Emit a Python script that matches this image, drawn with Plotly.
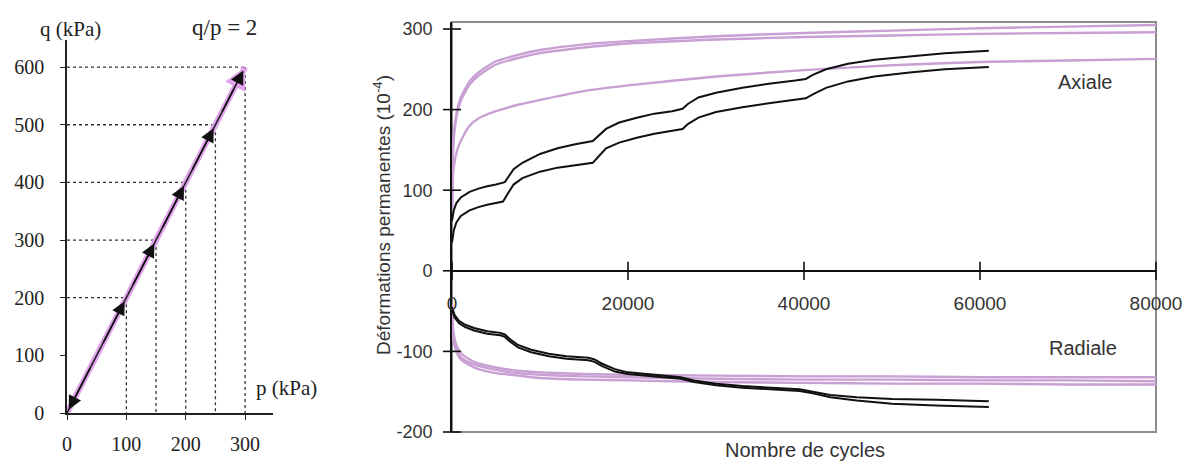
import plotly.graph_objects as go

# ---------------- Left chart data (stress path) ----------------
p_vals = [100, 150, 200, 250, 300]
q_vals = [200, 300, 400, 500, 600]
left_xticks = [0, 100, 200, 300]
left_yticks = [0, 100, 200, 300, 400, 500, 600]

# ---------------- Right chart data (permanent strains) ----------------
# axial - black (two tests)
ax_black1_N = [0, 200, 500, 1000, 2000, 3000, 4000, 5000, 6000, 6500, 7000, 8000, 10000, 12000, 14000,
               16000, 16500, 17500, 19000, 21000, 23000, 25000, 26200, 26800, 28000, 30000, 33000, 36000,
               39000, 40200, 41000, 42500, 45000, 48000, 52000, 56000, 61000]
ax_black1_v = [62, 75, 84, 91, 98, 102, 105, 107, 110, 118, 126, 134, 145, 152, 157,
               161, 166, 176, 184, 190, 195, 198, 201, 207, 215, 221, 227, 232,
               236, 238, 243, 250, 257, 262, 266, 270, 273]
ax_black2_N = [0, 200, 500, 1000, 2000, 3000, 4000, 5000, 5800, 6300, 7000, 8000, 10000, 12000, 14000,
               16000, 16500, 17500, 19000, 21000, 23000, 25000, 26200, 26800, 28000, 30000, 33000, 36000,
               39000, 40200, 41000, 42500, 45000, 48000, 52000, 56000, 61000]
ax_black2_v = [35, 50, 60, 68, 75, 79, 82, 84, 86, 95, 107, 115, 123, 128, 131,
               134, 140, 152, 159, 165, 170, 174, 176, 182, 190, 197, 203, 208,
               212, 214, 219, 227, 235, 241, 246, 250, 253]

# axial - pink (three tests)
pink_N = [0, 100, 300, 600, 1000, 2000, 3000, 5000, 7500, 10000, 15000, 20000, 30000, 40000,
          50000, 60000, 70000, 80000]
ax_pink1_v = [80, 150, 180, 200, 215, 235, 246, 260, 268, 274, 281, 285, 291, 295, 298, 301, 303, 305]
ax_pink2_v = [75, 145, 175, 196, 211, 231, 242, 256, 264, 270, 277, 282, 287, 290, 292, 294, 295, 296]
ax_pink3_v = [70, 118, 136, 150, 161, 180, 189, 198, 206, 212, 223, 230, 241, 249, 255, 259, 261, 263]

# radial - black (two tests)
rad_black_N = [0, 300, 800, 1500, 2500, 4000, 5500, 6000, 6500, 7500, 9000, 11000, 13000, 15500, 16200,
               17000, 18500, 20000, 23000, 26000, 27500, 30000, 33000, 37000, 39500, 41000, 43000, 46000,
               50000, 55000, 61000]
rad_black1_v = [-45, -55, -62, -67, -71, -75, -77, -79, -84, -92, -98, -103, -106, -108, -110,
                -115, -122, -126, -129, -132, -136, -140, -143, -145, -147, -150, -154, -157,
                -159, -160, -162]
rad_black2_v = [-48, -58, -65, -70, -74, -78, -80, -82, -87, -95, -101, -106, -109, -111, -113,
                -118, -125, -128, -131, -134, -138, -142, -145, -147, -149, -152, -157, -161,
                -165, -167, -169]

# radial - pink (three tests)
rad_pink1_v = [-40, -70, -85, -95, -102, -110, -115, -120, -124, -126, -128, -129, -130, -131,
               -131, -132, -132, -132]
rad_pink2_v = [-45, -75, -90, -100, -107, -114, -118, -123, -127, -129, -131, -132, -134, -135,
               -135, -136, -136, -137]
rad_pink3_v = [-50, -78, -93, -103, -110, -117, -122, -127, -130, -133, -135, -136, -138, -139,
               -140, -140, -141, -141]

right_xticks = [0, 20000, 40000, 60000, 80000]
right_yticks = [-200, -100, 0, 100, 200, 300]

# ---------------- Styles ----------------
W, H = 1191, 465
SERIF = "Liberation Serif, Times New Roman, serif"
SANS = "Liberation Sans, Arial, sans-serif"
PINK_L = "#e2a2ee"
PINK_R = "#c8a0d4"
BLACK = "#111111"


def fx(px):
    return px / W


def fy(py):
    return (H - py) / H


fig = go.Figure()

# ---------- left chart ----------
gx, gy = [], []
for p, q in zip(p_vals, q_vals):
    gx += [0, p, p, None]
    gy += [q, q, 0, None]
fig.add_trace(go.Scatter(x=gx, y=gy, mode="lines", xaxis="x", yaxis="y",
                         line=dict(color="#333333", width=1.3, dash="dot"),
                         hoverinfo="skip", showlegend=False))
fig.add_trace(go.Scatter(x=[0] + p_vals[-1:], y=[0] + q_vals[-1:], mode="lines", xaxis="x", yaxis="y",
                         line=dict(color=PINK_L, width=6), showlegend=False, cliponaxis=False))
fig.add_trace(go.Scatter(x=[0] + p_vals[-1:], y=[0] + q_vals[-1:], mode="lines", xaxis="x", yaxis="y",
                         line=dict(color="#222222", width=1.6), showlegend=False, cliponaxis=False))

annotations = []
annotations.append(dict(x=p_vals[-1], y=q_vals[-1], ax=p_vals[-1] * 0.93, ay=q_vals[-1] * 0.93,
                        xref="x", yref="y", axref="x", ayref="y", showarrow=True,
                        arrowhead=2, arrowsize=1.1, arrowwidth=4, arrowcolor=PINK_L, text=""))
for p, q in zip(p_vals, q_vals):
    annotations.append(dict(x=p - 3, y=q - 6, ax=p - 40, ay=q - 80,
                            xref="x", yref="y", axref="x", ayref="y", showarrow=True,
                            arrowhead=2, arrowsize=1.7, arrowwidth=1.6, arrowcolor="#111111", text=""))
annotations.append(dict(x=3, y=6, ax=40, ay=80, xref="x", yref="y", axref="x", ayref="y",
                        showarrow=True, arrowhead=2, arrowsize=1.7, arrowwidth=1.6,
                        arrowcolor="#111111", text=""))


def label(text, px, py, family, size, color="#222", angle=0):
    return dict(text=text, x=fx(px), y=fy(py), xref="paper", yref="paper", showarrow=False,
                xanchor="center", yanchor="middle", textangle=angle,
                font=dict(family=family, size=size, color=color))


annotations += [
    label("q (kPa)", 70, 29, SERIF, 21),
    label("q/p = 2", 224, 27, SERIF, 23),
    label("p (kPa)", 286, 388, SERIF, 21),
]

# ---------- right chart ----------
pink_series = [(pink_N, ax_pink1_v), (pink_N, ax_pink2_v), (pink_N, ax_pink3_v),
               (pink_N, rad_pink1_v), (pink_N, rad_pink2_v), (pink_N, rad_pink3_v)]
for xs, ys in pink_series:
    fig.add_trace(go.Scatter(x=xs, y=ys, mode="lines", xaxis="x2", yaxis="y2",
                             line=dict(color=PINK_R, width=2.4, shape="spline", smoothing=0.6),
                             showlegend=False))
black_series = [(ax_black1_N, ax_black1_v), (ax_black2_N, ax_black2_v),
                (rad_black_N, rad_black1_v), (rad_black_N, rad_black2_v)]
for xs, ys in black_series:
    fig.add_trace(go.Scatter(x=xs, y=ys, mode="lines", xaxis="x2", yaxis="y2",
                             line=dict(color=BLACK, width=2), showlegend=False))

fig.add_trace(go.Scatter(x=right_xticks, y=[0] * len(right_xticks), mode="markers", xaxis="x2", yaxis="y2",
                         marker=dict(symbol="line-ns", size=13, line=dict(width=1.6, color=BLACK)),
                         cliponaxis=False, hoverinfo="skip", showlegend=False))
fig.add_trace(go.Scatter(x=[0] * len(right_yticks), y=right_yticks, mode="markers", xaxis="x2", yaxis="y2",
                         marker=dict(symbol="line-ew", size=13, line=dict(width=1.6, color=BLACK)),
                         cliponaxis=False, hoverinfo="skip", showlegend=False))

annotations += [
    label("Déformations permanentes (10<sup>-4</sup>)", 382, 215, SANS, 19, "#333", -90),
    label("Nombre de cycles", 805, 450, SANS, 20, "#333"),
    label("Axiale", 1085, 82, SANS, 20, "#333"),
    label("Radiale", 1083, 348, SANS, 20, "#333"),
]

shapes = [dict(type="rect", xref="x2 domain", yref="y2 domain", x0=0, x1=1, y0=0, y1=1,
               line=dict(color="#8c8c8c", width=2), layer="below")]

zero_pos = fy(270.8)

fig.update_layout(
    template=None,
    width=W, height=H, margin=dict(l=0, r=0, t=0, b=0, autoexpand=False),
    paper_bgcolor="white", plot_bgcolor="white", showlegend=False,
    annotations=annotations, shapes=shapes,
    xaxis=dict(domain=[fx(67), fx(273)], range=[0, 347], anchor="y", automargin=False,
               tickvals=left_xticks, ticktext=[str(v) for v in left_xticks],
               showline=True, linecolor="#222", linewidth=1.6, ticks="outside", ticklen=5,
               tickcolor="#222", showgrid=False, zeroline=False, ticklabelstandoff=7,
               tickfont=dict(family=SERIF, size=20, color="#222")),
    yaxis=dict(domain=[fy(413), fy(40)], range=[0, 647], anchor="x", automargin=False,
               tickvals=left_yticks, ticktext=[str(v) for v in left_yticks],
               showline=True, linecolor="#222", linewidth=1.6, ticks="outside", ticklen=5,
               tickcolor="#222", showgrid=False, zeroline=False, ticklabelstandoff=12,
               tickfont=dict(family=SERIF, size=20, color="#222")),
    xaxis2=dict(domain=[fx(452), fx(1156)], range=[0, 80000], anchor="free", position=zero_pos,
                automargin=False,
                tickvals=right_xticks, ticktext=[str(v) for v in right_xticks],
                showline=True, linecolor=BLACK, linewidth=1.6, ticks="", showgrid=False, zeroline=False,
                ticklabelstandoff=16, tickfont=dict(family=SANS, size=19, color="#333")),
    yaxis2=dict(domain=[fy(432), fy(22)], range=[-200, 308.7], anchor="x2", automargin=False,
                tickvals=right_yticks, ticktext=[str(v) for v in right_yticks],
                showline=True, linecolor=BLACK, linewidth=1.6, ticks="", showgrid=False, zeroline=False,
                ticklabelstandoff=14, tickfont=dict(family=SANS, size=18, color="#333")),
)

fig.write_html("out.html")
